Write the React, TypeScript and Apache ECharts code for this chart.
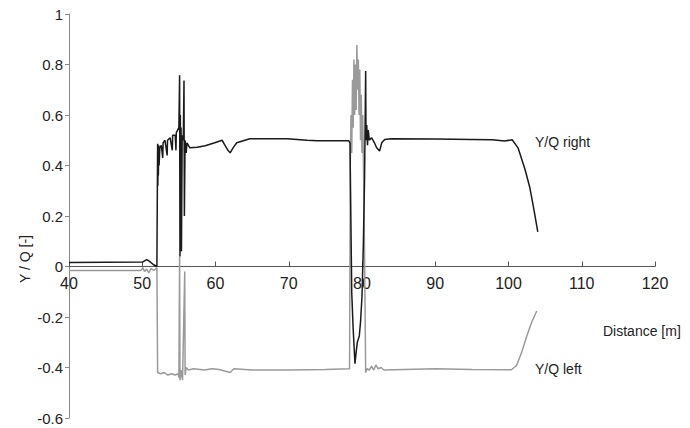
import React, { useEffect, useRef } from "react";
import * as echarts from "echarts";

// Y/Q right (black)
const rightDistance = [
  40, 50.1, 50.6, 51.0, 51.5, 52.0, 52.1, 52.13, 52.17, 52.2, 52.25, 52.3, 52.4, 52.6,
  52.8, 52.85, 53.1, 53.4, 53.45, 53.8, 54.1, 54.15, 54.5, 54.6, 54.65, 55.0, 55.1,
  55.15, 55.2, 55.25, 55.3, 55.35, 55.45, 55.6, 55.7, 55.75, 55.85, 56.0, 56.1, 56.5,
  57.5, 58.6, 59.9, 60.9, 61.3, 61.7, 62.0, 62.4, 62.9, 64.7, 69.8, 72.5, 73.9, 78.2,
  78.36, 78.6, 78.8, 79.04, 79.2, 79.36, 79.63, 79.8, 80.0, 80.18, 80.35, 80.5, 80.55,
  80.65, 80.75, 80.85, 81.0, 81.3, 81.7, 82.0, 82.4, 82.7, 83.1, 84.0, 90.0, 95.0,
  97.75, 99.5, 100.5, 101.3, 102.25, 102.9, 103.5, 104.0,
];
const rightValues = [
  0.016, 0.018, 0.027, 0.02, 0.008, 0.0, 0.486, 0.32, 0.47, 0.36, 0.48, 0.4, 0.47, 0.48,
  0.43, 0.49, 0.5, 0.44, 0.5, 0.51, 0.46, 0.52, 0.52, 0.46, 0.53, 0.55, 0.757,
  0.04, 0.6, 0.1, 0.55, 0.06, 0.52, 0.5, 0.737, 0.2, 0.5, 0.45, 0.49, 0.47,
  0.472, 0.478, 0.49, 0.5, 0.48, 0.46, 0.45, 0.47, 0.49, 0.506, 0.506, 0.5, 0.498, 0.498,
  0.49, -0.105, -0.25, -0.385, -0.34, -0.3, -0.275, -0.22, -0.118, 0.08, 0.35, 0.774, 0.5,
  0.56, 0.48, 0.54, 0.5, 0.51, 0.49, 0.47, 0.457, 0.49, 0.503, 0.506, 0.505, 0.503,
  0.502, 0.497, 0.502, 0.47, 0.385, 0.314, 0.22, 0.137,
];

// Y/Q left (grey)
const leftDistance = [
  40, 49.8, 50.1, 50.3, 50.6, 50.9, 51.2, 51.6, 52.0, 52.1, 52.5, 53.0, 53.5, 54.0, 54.5,
  54.9, 55.0, 55.1, 55.15, 55.3, 55.5, 55.8, 55.85, 56.0, 56.3, 57.0, 58.5, 59.5, 60.5,
  62.0, 62.5, 65.0, 70.0, 75.0, 78.3, 78.4, 78.5, 78.6, 78.7, 78.8, 78.9, 79.0, 79.1,
  79.2, 79.3, 79.4, 79.5, 79.6, 79.7, 79.8, 79.9, 80.0, 80.1, 80.25, 80.4, 80.5, 80.7,
  81.0, 81.3, 81.6, 81.9, 82.2, 82.6, 83.0, 90.0, 95.0, 100.4, 101.1, 101.8, 102.5,
  103.15, 103.85,
];
const leftValues = [
  -0.016, -0.016, -0.005, -0.02, -0.01, -0.025, -0.008, -0.015, -0.005, -0.42, -0.425,
  -0.42, -0.43, -0.425, -0.43, -0.425, -0.44, 0.04, -0.45, -0.41, -0.45, -0.02, -0.43,
  -0.4, -0.41, -0.405, -0.41, -0.405, -0.408, -0.42, -0.405, -0.41, -0.41, -0.408, -0.405,
  0.4, 0.6, 0.45, 0.74, 0.55, 0.82, 0.6, 0.8, 0.62, 0.877, 0.7, 0.82, 0.6, 0.78, 0.5,
  0.68, 0.45, 0.6, 0.3, -0.1, -0.42, -0.405, -0.41, -0.395, -0.41, -0.39, -0.405, -0.4,
  -0.41, -0.405, -0.408, -0.409, -0.392, -0.34, -0.275, -0.222, -0.176,
];

const seriesNames = ["Y/Q right", "Y/Q left"];
const xAxisTitle = "Distance [m]";
const yAxisTitle = "Y / Q [-]";

const GRID_TOP = 14;
const GRID_BOTTOM = 10;
const CHART_H = 428;
const Y_MIN = -0.6;
const Y_MAX = 1;

export default function App() {
  const ref = useRef<HTMLDivElement>(null);
  useEffect(() => {
    if (!ref.current) return;
    const chart = echarts.init(ref.current, null, { renderer: "svg" });
    const font = "'Liberation Sans', Arial, sans-serif";
    const pairs = (xs: number[], ys: number[]) => xs.map((x, i) => [x, ys[i]]);
    const plotH = CHART_H - GRID_TOP - GRID_BOTTOM;
    const zeroOffset = -(plotH * (0 - Y_MIN)) / (Y_MAX - Y_MIN);
    chart.setOption({
      animation: false,
      backgroundColor: "#ffffff",
      grid: { left: 69, right: 35, top: GRID_TOP, bottom: GRID_BOTTOM, containLabel: false, outerBoundsMode: "none" },
      xAxis: {
        type: "value",
        min: 40,
        max: 120,
        interval: 10,
        offset: zeroOffset,
        axisLine: { onZero: false, lineStyle: { color: "#555", width: 1 } },
        axisTick: { show: true, inside: true, length: 5, lineStyle: { color: "#555" } },
        axisLabel: { margin: 9, fontSize: 16, color: "#222", fontFamily: font },
        splitLine: { show: false },
      },
      yAxis: {
        type: "value",
        min: Y_MIN,
        max: Y_MAX,
        interval: 0.2,
        axisLine: { show: true, lineStyle: { color: "#888", width: 1 } },
        axisTick: { show: true, length: 4, lineStyle: { color: "#888" } },
        axisLabel: {
          margin: 6,
          fontSize: 15,
          color: "#222",
          fontFamily: font,
          formatter: (v: number) => String(Math.round(v * 10) / 10),
        },
        splitLine: { show: false },
      },
      series: [
        {
          name: seriesNames[1],
          type: "line",
          data: pairs(leftDistance, leftValues),
          showSymbol: false,
          lineStyle: { color: "#9a9a9a", width: 1.5 },
          itemStyle: { color: "#9a9a9a" },
        },
        {
          name: seriesNames[0],
          type: "line",
          data: pairs(rightDistance, rightValues),
          showSymbol: false,
          lineStyle: { color: "#1a1a1a", width: 1.5 },
          itemStyle: { color: "#1a1a1a" },
        },
      ],
      graphic: [
        {
          type: "text",
          x: 25,
          y: 259,
          rotation: Math.PI / 2,
          style: { text: yAxisTitle, fill: "#222", fontSize: 14, fontFamily: font, align: "center", verticalAlign: "middle" },
        },
        {
          type: "text",
          x: 603,
          y: 331,
          style: { text: xAxisTitle, fill: "#222", fontSize: 14, fontFamily: font, align: "left", verticalAlign: "middle" },
        },
        {
          type: "text",
          x: 535,
          y: 142,
          style: { text: seriesNames[0], fill: "#222", fontSize: 14, fontFamily: font, align: "left", verticalAlign: "middle" },
        },
        {
          type: "text",
          x: 535,
          y: 369,
          style: { text: seriesNames[1], fill: "#222", fontSize: 14, fontFamily: font, align: "left", verticalAlign: "middle" },
        },
      ],
    });
    return () => chart.dispose();
  }, []);
  return (
    <div
      ref={ref}
      style={{ position: "fixed", left: 0, top: 0, width: 690, height: 428, background: "#fff" }}
    />
  );
}
